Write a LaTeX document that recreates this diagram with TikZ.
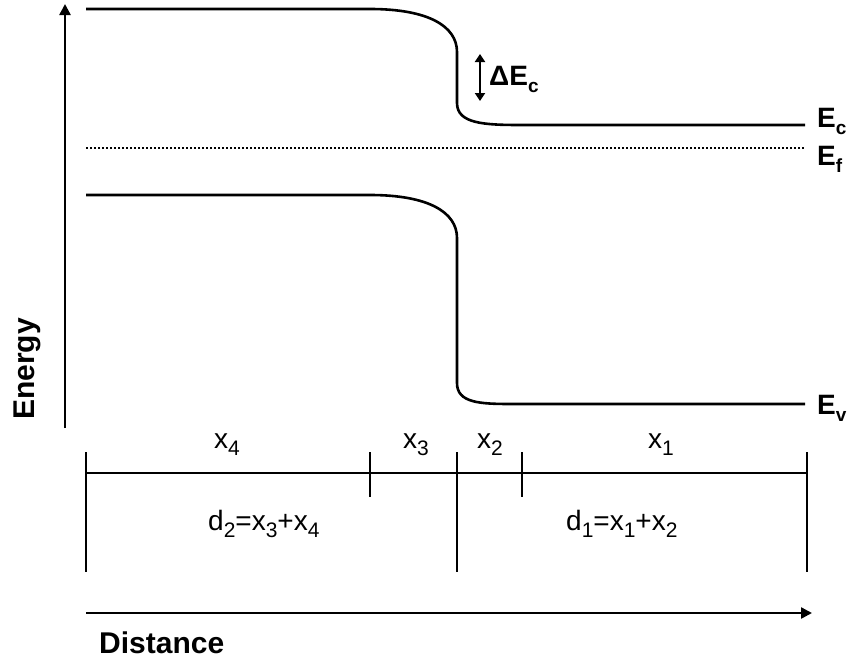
\documentclass[tikz,border=0pt]{standalone}
\usepackage{fontspec}
\setmainfont{Liberation Sans}
\usetikzlibrary{arrows.meta}
\newcommand{\lsub}[1]{\raisebox{-7pt}{\fontsize{19}{19}\selectfont #1}}
\newcommand{\ssub}[1]{\raisebox{-7pt}{\fontsize{21}{21}\selectfont #1}}
\begin{document}
\begin{tikzpicture}[x=1pt,y=-1pt,
  band/.style={line width=2.6pt},
  scaleline/.style={line width=2.2pt},
  axis/.style={line width=2.4pt,-{Triangle[length=11pt,width=11pt]}},
  lvl/.style={font=\fontsize{28}{30}\selectfont\bfseries,anchor=base west,inner sep=0pt},
  seg/.style={font=\fontsize{28}{30}\selectfont,anchor=base west,inner sep=0pt},
  axlabel/.style={font=\fontsize{30}{32}\selectfont\bfseries,anchor=base west,inner sep=0pt}]
\useasboundingbox (0,0) rectangle (851,662);
% energy axis
\coordinate (ea0) at (65,428);
\coordinate (ea1) at (65,4);
\draw[axis] (ea0) -- (ea1);
\node[axlabel,rotate=90] (energy) at (34,420) {Energy};
% conduction band
\coordinate (c0) at (86,9);
\coordinate (c1) at (370,9);
\coordinate (c2) at (457,52);
\coordinate (c3) at (457,103);
\coordinate (c4) at (522,125);
\coordinate (c5) at (805,125);
\draw[band] (c0) -- (c1) .. controls (428,9) and (457,26) .. (c2) -- (c3)
  .. controls (457,124) and (485,125) .. (c4) -- (c5);
% Fermi level
\coordinate (f0) at (86,148);
\coordinate (f1) at (805,148);
\draw[line width=1.8pt,dash pattern=on 1.8pt off 2.2pt] (f0) -- (f1);
% valence band
\coordinate (v0) at (86,195);
\coordinate (v1) at (370,195);
\coordinate (v2) at (457,238);
\coordinate (v3) at (457,383);
\coordinate (v4) at (512,404);
\coordinate (v5) at (805,404);
\draw[band] (v0) -- (v1) .. controls (428,195) and (457,212) .. (v2) -- (v3)
  .. controls (457,403) and (480,404) .. (v4) -- (v5);
% level labels
\node[lvl] (Ec) at (817,127) {E\lsub{c}};
\node[lvl] (Ef) at (817,165) {E\lsub{f}};
\node[lvl] (Ev) at (817,414) {E\lsub{v}};
% Delta Ec
\coordinate (d0) at (480,54);
\coordinate (d1) at (480,101);
\draw[line width=2.2pt,{Triangle[length=8pt,width=10pt]}-{Triangle[length=8pt,width=10pt]}] (d0) -- (d1);
\node[lvl] (dEc) at (489,85) {ΔE\lsub{c}};
% distance scale
\coordinate (s0) at (86,473);
\coordinate (s1) at (807,473);
\draw[scaleline] (s0) -- (s1);
\coordinate (t1a) at (86,452); \coordinate (t1b) at (86,572);
\coordinate (t2a) at (370,452); \coordinate (t2b) at (370,497);
\coordinate (t3a) at (457,452); \coordinate (t3b) at (457,572);
\coordinate (t4a) at (522,452); \coordinate (t4b) at (522,497);
\coordinate (t5a) at (807,452); \coordinate (t5b) at (807,572);
\draw[scaleline] (t1a) -- (t1b);
\draw[scaleline] (t2a) -- (t2b);
\draw[scaleline] (t3a) -- (t3b);
\draw[scaleline] (t4a) -- (t4b);
\draw[scaleline] (t5a) -- (t5b);
\node[seg] (x4) at (214,448) {x\ssub{4}};
\node[seg] (x3) at (403,448) {x\ssub{3}};
\node[seg] (x2) at (477,448) {x\ssub{2}};
\node[seg] (x1) at (648,448) {x\ssub{1}};
\node[seg] (d2) at (208,530) {d\ssub{2}=x\ssub{3}+x\ssub{4}};
\node[seg] (d1l) at (566,530) {d\ssub{1}=x\ssub{1}+x\ssub{2}};
% distance axis
\coordinate (da0) at (86,613);
\coordinate (da1) at (812,613);
\draw[axis] (da0) -- (da1);
\node[axlabel] (dist) at (99,653) {Distance};
\end{tikzpicture}
\end{document}
